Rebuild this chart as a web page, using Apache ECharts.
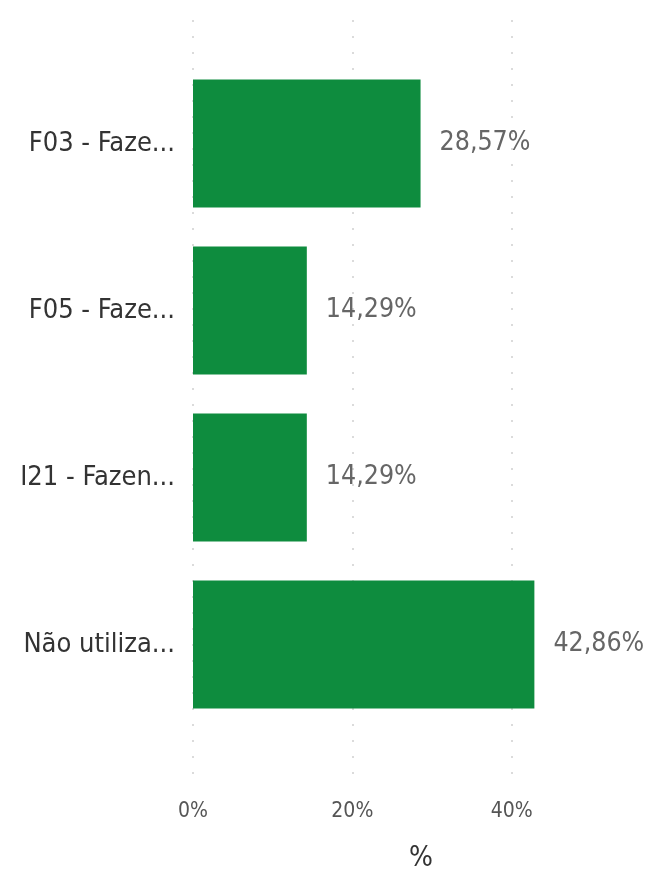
<!DOCTYPE html>
<html>
<head>
<meta charset="utf-8">
<style>html,body{margin:0;padding:0;background:#fff}#c{width:646px;height:873px}</style>
<script src="https://cdn.jsdelivr.net/npm/echarts@6/dist/echarts.min.js"></script>
</head>
<body>
<div id="c"></div>
<script>
const categories = ['F03 - Faze...', 'F05 - Faze...', 'I21 - Fazen...', 'Não utiliza...'];
const values = [28.57, 14.29, 14.29, 42.86];
const tickValues = [0, 20, 40];
const axisTitle = '%';

const FONT = '"DejaVu Sans Condensed", "Liberation Sans Narrow", sans-serif';
const chart = echarts.init(document.getElementById('c'), null, {renderer: 'canvas'});
chart.setOption({
  animation: false,
  backgroundColor: '#ffffff',
  title: {
    text: axisTitle,
    left: 404, top: 840,
    textStyle: {fontFamily: FONT, fontSize: 28, fontWeight: 'normal', color: '#333'}
  },
  grid: [
    {left: 193, right: 134.3, top: 20, bottom: 93, outerBoundsMode: 'none', containLabel: false},
    {left: 193, right: 54.75, top: 60, bottom: 145, outerBoundsMode: 'none', containLabel: false}
  ],
  xAxis: [
    {
      gridIndex: 0, type: 'value',
      min: tickValues[0], max: tickValues[tickValues.length - 1], interval: tickValues[1] - tickValues[0],
      axisLine: {show: false}, axisTick: {show: false},
      splitLine: {show: true, lineStyle: {color: '#d0d0d0', width: 1.5, type: [2, 14]}},
      axisLabel: {formatter: '{value}%', fontFamily: FONT, fontSize: 21, color: '#555', margin: 21}
    },
    {
      gridIndex: 1, type: 'value', min: 0, max: 50,
      show: false
    }
  ],
  yAxis: [
    {gridIndex: 0, type: 'value', show: false, min: 0, max: 1},
    {
      gridIndex: 1, type: 'category', inverse: true, data: categories,
      axisLine: {show: false}, axisTick: {show: false},
      axisLabel: {fontFamily: FONT, fontSize: 27, color: '#333', margin: 18}
    }
  ],
  series: [{
    type: 'bar', xAxisIndex: 1, yAxisIndex: 1,
    data: values,
    barCategoryGap: '23.4%',
    itemStyle: {color: '#0E8C3E'},
    label: {
      show: true, position: 'right', distance: 19,
      fontFamily: FONT, fontSize: 26.5, color: '#666',
      formatter: p => p.value.toFixed(2).replace('.', ',') + '%'
    }
  }]
});
</script>
</body>
</html>
